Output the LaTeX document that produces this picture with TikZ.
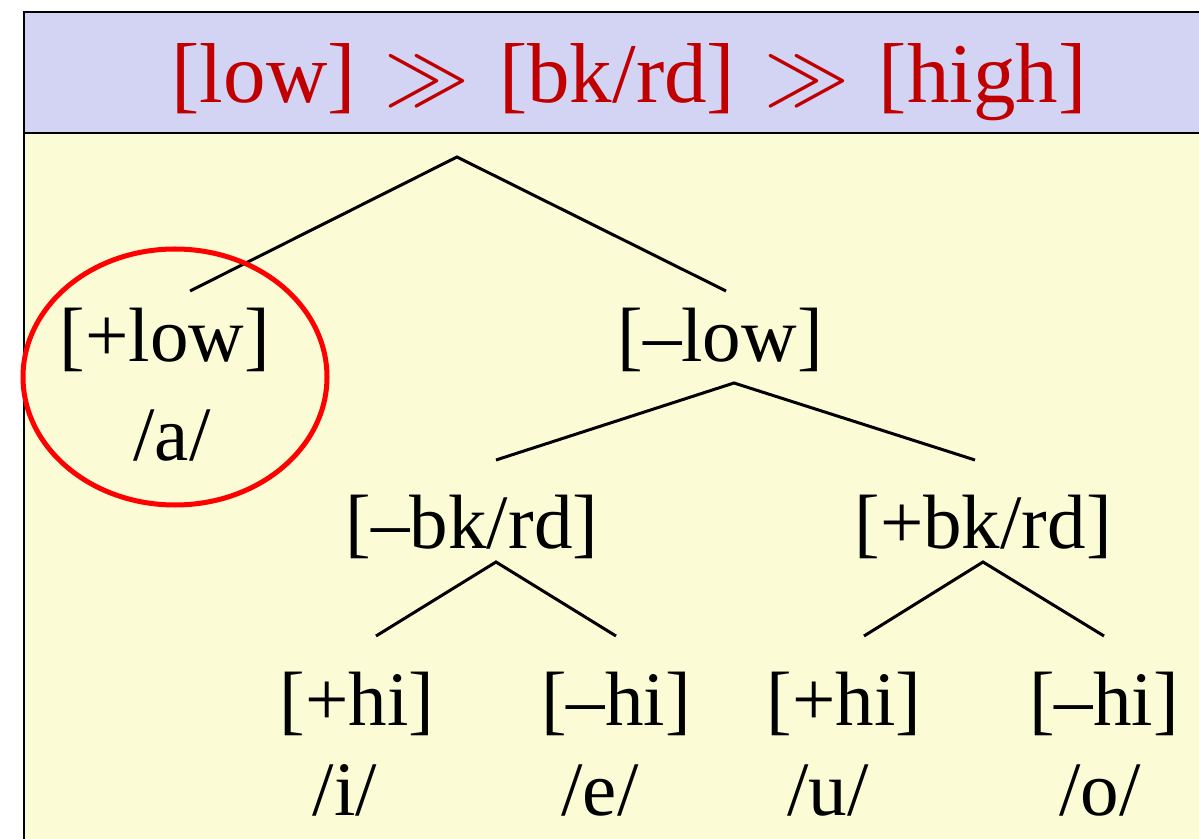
\documentclass[tikz,border=0pt]{standalone}
\usepackage{fix-cm}
\usepackage{fontspec}
\setmainfont{Liberation Serif}
\begin{document}
\begin{tikzpicture}[x=0.5pt,y=-0.5pt,
  feat/.style={inner sep=0pt,anchor=base,font=\fontsize{38.5}{40}\selectfont},
  titletext/.style={inner sep=0pt,anchor=base,text=titlered,font=\fontsize{42.5}{44}\selectfont},
  branch/.style={line width=1.5pt,black},
  circ/.style={draw=red,line width=2.5pt}]
\definecolor{titlered}{RGB}{192,0,0}
\definecolor{titlebg}{RGB}{211,211,243}
\definecolor{bodybg}{RGB}{251,251,213}
\useasboundingbox (0,0) rectangle (1199,839);
\fill[white] (0,0) rectangle (1199,839);
\fill[bodybg] (24,133) rectangle (1199,839);
\fill[titlebg] (24,12) rectangle (1199,133);
\draw[line width=1pt] (1199,12) -- (24,12) -- (24,839);
\draw[line width=1pt] (24,133) -- (1199,133);
\node[titletext] (title) at (629,103) {[low]\kern4pt{} $\gg$ \kern4pt[bk/rd]\kern4pt{} $\gg$ \kern4pt[high]};
% nodes
\node[feat] (plow) at (165,362) {[+low]};
\node[feat] (a) at (172,460) {/a/};
\node[feat] (mlow) at (720,362) {[–low]};
\node[feat] (mbk) at (472,548) {[–bk/rd]};
\node[feat] (pbk) at (983,548) {[+bk/rd]};
\node[feat] (phi1) at (357,725) {[+hi]};
\node[feat] (i) at (345,815) {/i/};
\node[feat] (mhi1) at (616,725) {[–hi]};
\node[feat] (e) at (600,815) {/e/};
\node[feat] (phi2) at (844,725) {[+hi]};
\node[feat] (u) at (828,815) {/u/};
\node[feat] (mhi2) at (1104,725) {[–hi]};
\node[feat] (o) at (1100,815) {/o/};
% connector ends
\coordinate (root) at (457,157);
\coordinate (plowT) at (190,291);
\coordinate (mlowT) at (726,291);
\coordinate (mlowB) at (734,383);
\coordinate (mbkT) at (496,460);
\coordinate (pbkT) at (975,460);
\coordinate (mbkB) at (496,562);
\coordinate (phi1T) at (376,636);
\coordinate (mhi1T) at (616,636);
\coordinate (pbkB) at (983,562);
\coordinate (phi2T) at (864,636);
\coordinate (mhi2T) at (1104,636);
\draw[branch] (plowT) -- (root) -- (mlowT);
\draw[branch] (mbkT) -- (mlowB) -- (pbkT);
\draw[branch] (phi1T) -- (mbkB) -- (mhi1T);
\draw[branch] (phi2T) -- (pbkB) -- (mhi2T);
\draw[circ] (175,377) ellipse [x radius=152, y radius=128];
\end{tikzpicture}
\end{document}
